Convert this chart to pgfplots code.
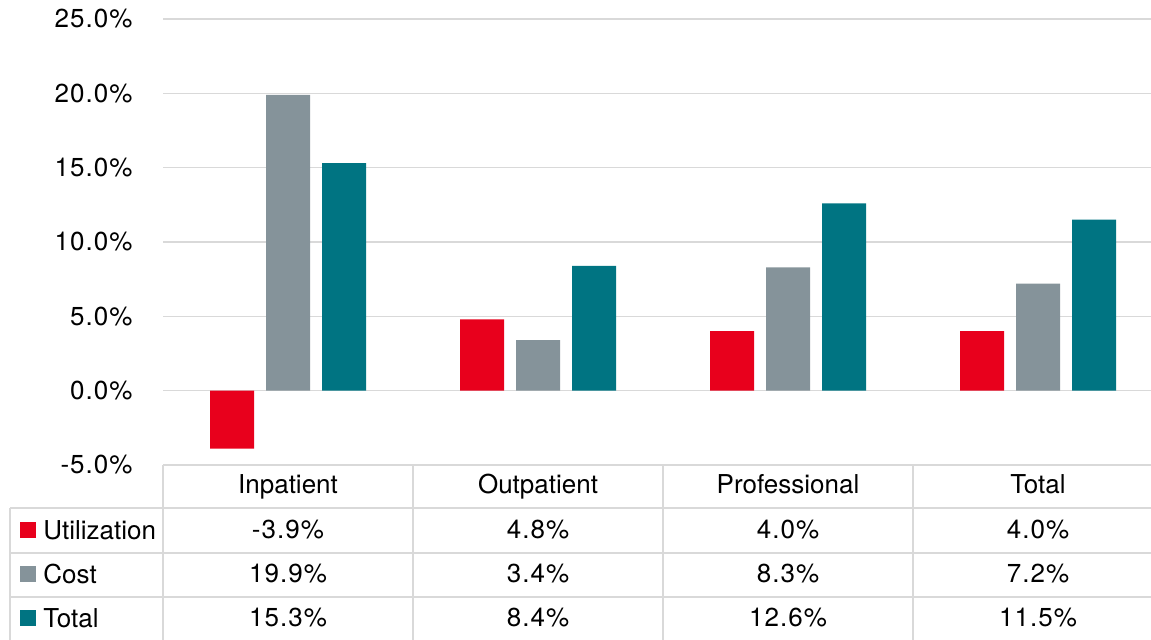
\documentclass[border=0pt]{standalone}
\usepackage{pgfplots}
\usepackage{pgfplotstable}
\usepackage{fontspec}
\setmainfont{TeX Gyre Heros}
\newfontfamily\numfont[LetterSpace=4]{TeX Gyre Heros}
\pgfplotsset{compat=1.18}

\definecolor{utilred}{HTML}{E8001C}
\definecolor{costgray}{HTML}{85939A}
\definecolor{totalteal}{HTML}{007482}
\definecolor{rulegray}{HTML}{D9D9D9}

% Year-over-year change (%) by service category
\pgfplotstableread{
cat util cost total
Inpatient -3.9 19.9 15.3
Outpatient 4.8 3.4 8.4
Professional 4.0 8.3 12.6
Total 4.0 7.2 11.5
}\data

\pgfkeys{/pgf/number format/assume math mode=true}

\begin{document}
\begin{tikzpicture}[font=\fontsize{13}{15}\selectfont]
\begin{axis}[
  at={(81.5pt,87.5pt)}, anchor=south west,
  scale only axis, width=494pt, height=223pt,
  xmin=-0.5, xmax=3.452, ymin=-5, ymax=25,
  ybar=6pt, bar width=22pt,
  xtick={0,1,2,3}, xticklabels from table={\data}{cat},
  xticklabel style={anchor=base, inner sep=0pt, yshift=-14.5pt},
  ytick={-5,0,...,25},
  yticklabel={{\numfont\pgfmathprintnumber[fixed,fixed zerofill,precision=1]{\tick}\%}},
  yticklabel style={anchor=east, inner sep=0pt, xshift=-15pt},
  ymajorgrids, major grid style={rulegray, line width=0.75pt},
  axis line style={draw=none}, major tick length=0pt, tick style={draw=none},
  clip=false,
]
\addplot[fill=utilred, draw=none] table[x expr=\coordindex, y=util]{\data};
\addplot[fill=costgray, draw=none] table[x expr=\coordindex, y=cost]{\data};
\addplot[fill=totalteal, draw=none] table[x expr=\coordindex, y=total]{\data};
\end{axis}

% data table below the chart
\begin{scope}[rulegray, line width=1pt]
  \draw (81.5pt,87.5pt) -- (575.5pt,87.5pt);
  \foreach \yy in {66,43.5,21.5} \draw (5pt,\yy pt) -- (575.5pt,\yy pt);
  \draw (5pt,66pt) -- (5pt,0pt);
  \foreach \xx in {81.5,206.5,331.5,456.5} \draw (\xx pt,87.5pt) -- (\xx pt,0pt);
\end{scope}

\fill[utilred]   (10pt,51pt) rectangle (18pt,59pt);
\fill[costgray]  (10pt,29pt) rectangle (18pt,37pt);
\fill[totalteal] (10pt,7pt)  rectangle (18pt,15pt);
\node[anchor=west, inner sep=0pt] at (21.5pt,55pt) {Utilization};
\node[anchor=west, inner sep=0pt] at (21.5pt,33pt) {Cost};
\node[anchor=west, inner sep=0pt] at (21.5pt,11pt) {Total};

\foreach \r in {0,...,3} {
  \foreach \col/\yy in {util/55,cost/33,total/11} {
    \pgfplotstablegetelem{\r}{\col}\of\data
    \node[inner sep=0pt] at ({(144+125*\r)*1pt},{\yy pt})
      {\numfont\pgfmathprintnumber[fixed,fixed zerofill,precision=1]{\pgfplotsretval}\%};
  }
}

\pgfresetboundingbox
\path[use as bounding box] (0,0) rectangle (575.5pt,320pt);
\end{tikzpicture}
\end{document}
